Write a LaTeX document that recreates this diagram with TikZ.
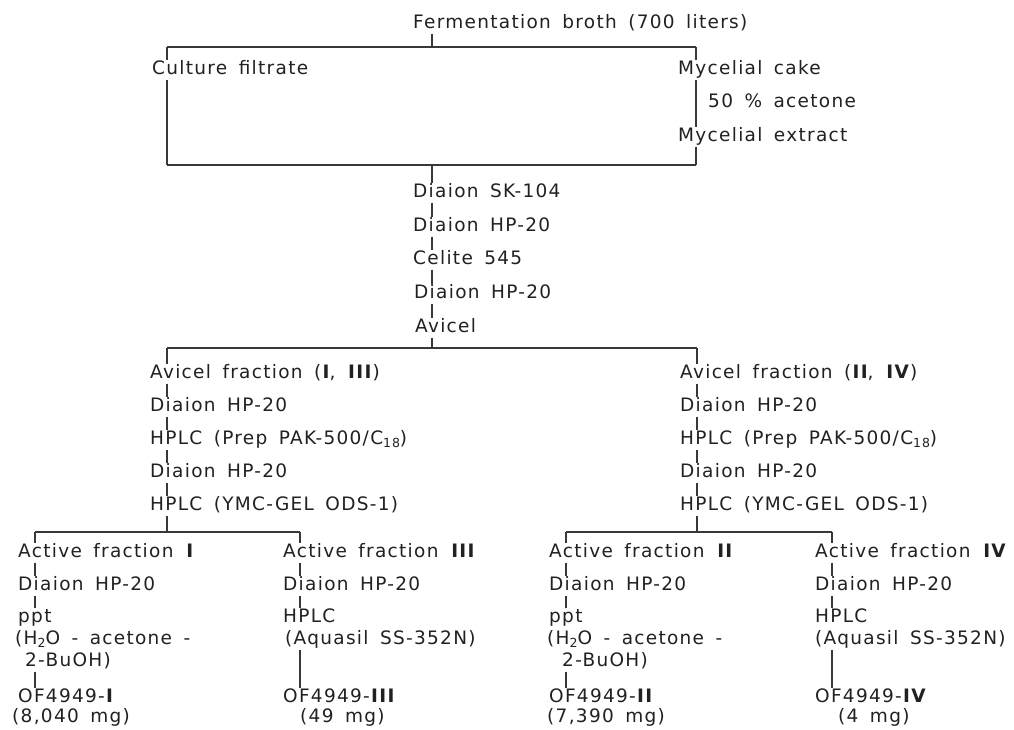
\documentclass[tikz,border=0pt]{standalone}
\usepackage{fontspec}
\setmainfont[LetterSpace=7,WordSpace=1.6]{DejaVu Sans}
\newcommand\lowsub[1]{\raisebox{-0.2em}{\fontsize{12.5}{12.5}\selectfont #1}}
\definecolor{ink}{gray}{0.13}
\definecolor{rule}{gray}{0.22}
\begin{document}
\begin{tikzpicture}[x=1pt,y=-1pt,
  txt/.style={anchor=base west,inner xsep=0pt,inner ysep=1.5pt,text height=12.5pt,text depth=4pt,
    font=\fontsize{18.5}{21}\selectfont,text=ink},
  upper/.style={text depth=1pt},
  lower/.style={text height=10pt},
  ln/.style={draw=rule,line width=1.1pt},
  barline/.style={draw=rule,line width=1.5pt}]
\path[use as bounding box,fill=white] (0,0) rectangle (1014,729);
% reference coordinates
\coordinate (xA) at (167,0);
\coordinate (xB) at (696,0);
\coordinate (xC) at (432,0);
\coordinate (xR) at (697,0);
\coordinate (x1) at (35,0);
\coordinate (x2) at (300,0);
\coordinate (x3) at (566,0);
\coordinate (x4) at (832,0);
\coordinate (yT) at (0,47);
\coordinate (yB) at (0,165);
\coordinate (yM) at (0,348);
\coordinate (yL) at (0,532);
% top
\node[txt] (ferm) at (413,28) {Fermentation broth (700 liters)};
\node[txt] (cf) at (152,74) {Culture filtrate};
\node[txt] (mc) at (678,74) {Mycelial cake};
\node[txt] (ac) at (708,107) {50 \% acetone};
\node[txt] (me) at (678,141) {Mycelial extract};
% middle column
\node[txt] (sk) at (413,197) {Diaion SK-104};
\node[txt] (hpa) at (413,231) {Diaion HP-20};
\node[txt] (cel) at (413,264) {Celite 545};
\node[txt] (hpb) at (414,298) {Diaion HP-20};
\node[txt] (avi) at (415,332) {Avicel};
% left column
\node[txt] (lA) at (150,378) {Avicel fraction (\textbf{I}, \textbf{III})};
\node[txt] (lB) at (150,411) {Diaion HP-20};
\node[txt] (lC) at (150,444) {HPLC (Prep PAK-500/C\lowsub{18})};
\node[txt] (lD) at (150,477) {Diaion HP-20};
\node[txt] (lE) at (150,510) {HPLC (YMC-GEL ODS-1)};
% right column
\node[txt] (rA) at (680,378) {Avicel fraction (\textbf{II}, \textbf{IV})};
\node[txt] (rB) at (680,411) {Diaion HP-20};
\node[txt] (rC) at (680,444) {HPLC (Prep PAK-500/C\lowsub{18})};
\node[txt] (rD) at (680,477) {Diaion HP-20};
\node[txt] (rE) at (680,510) {HPLC (YMC-GEL ODS-1)};
% bottom column 1
\node[txt] (aA) at (18,557) {Active fraction \textbf{I}};
\node[txt] (aB) at (18,590) {Diaion HP-20};
\node[txt] (aC) at (18,622) {ppt};
\node[txt,upper] (aD) at (15,644) {(H\lowsub{2}O - acetone -};
\node[txt,lower] (aE) at (25,666) {2-BuOH)};
\node[txt] (aF) at (18,702) {OF4949-\textbf{I}};
\node[txt] (aG) at (12,722) {(8,040 mg)};
% bottom column 2
\node[txt] (bA) at (283,557) {Active fraction \textbf{III}};
\node[txt] (bB) at (283,590) {Diaion HP-20};
\node[txt] (bC) at (283,622) {HPLC};
\node[txt] (bD) at (285,644) {(Aquasil SS-352N)};
\node[txt] (bF) at (283,702) {OF4949-\textbf{III}};
\node[txt] (bG) at (300,722) {(49 mg)};
% bottom column 3
\node[txt] (cA) at (549,557) {Active fraction \textbf{II}};
\node[txt] (cB) at (549,590) {Diaion HP-20};
\node[txt] (cC) at (549,622) {ppt};
\node[txt,upper] (cD) at (547,644) {(H\lowsub{2}O - acetone -};
\node[txt,lower] (cE) at (562,666) {2-BuOH)};
\node[txt] (cF) at (549,702) {OF4949-\textbf{II}};
\node[txt] (cG) at (547,722) {(7,390 mg)};
% bottom column 4
\node[txt] (dA) at (815,557) {Active fraction \textbf{IV}};
\node[txt] (dB) at (815,590) {Diaion HP-20};
\node[txt] (dC) at (815,622) {HPLC};
\node[txt] (dD) at (815,644) {(Aquasil SS-352N)};
\node[txt] (dF) at (815,702) {OF4949-\textbf{IV}};
\node[txt] (dG) at (838,722) {(4 mg)};
% ---- connectors: top box
\draw[ln] (ferm.south -| xC) -- (xC |- yT);
\draw[barline] (xA |- yT) -- (xB |- yT);
\draw[ln] (xA |- yT) -- (cf.north -| xA);
\draw[ln] (cf.south -| xA) -- (xA |- yB);
\draw[ln] (xB |- yT) -- (mc.north -| xB);
\draw[ln] (mc.south -| xB) -- (me.north -| xB);
\draw[ln] (me.south -| xB) -- (xB |- yB);
\draw[barline] (xA |- yB) -- (xB |- yB);
% middle column
\draw[ln] (xC |- yB) -- (sk.north -| xC);
\draw[ln] (sk.south -| xC) -- (hpa.north -| xC);
\draw[ln] (hpa.south -| xC) -- (cel.north -| xC);
\draw[ln] (cel.south -| xC) -- (hpb.north -| xC);
\draw[ln] (hpb.south -| xC) -- (avi.north -| xC);
\draw[ln] (avi.south -| xC) -- (xC |- yM);
\draw[barline] (xA |- yM) -- (xR |- yM);
% left column
\draw[ln] (xA |- yM) -- (lA.north -| xA);
\draw[ln] (lA.south -| xA) -- (lB.north -| xA);
\draw[ln] (lB.south -| xA) -- (lC.north -| xA);
\draw[ln] (lC.south -| xA) -- (lD.north -| xA);
\draw[ln] (lD.south -| xA) -- (lE.north -| xA);
\draw[ln] (lE.south -| xA) -- (xA |- yL);
% right column
\draw[ln] (xR |- yM) -- (rA.north -| xR);
\draw[ln] (rA.south -| xR) -- (rB.north -| xR);
\draw[ln] (rB.south -| xR) -- (rC.north -| xR);
\draw[ln] (rC.south -| xR) -- (rD.north -| xR);
\draw[ln] (rD.south -| xR) -- (rE.north -| xR);
\draw[ln] (rE.south -| xR) -- (xR |- yL);
% bottom bars
\draw[barline] (x1 |- yL) -- (x2 |- yL);
\draw[barline] (x3 |- yL) -- (x4 |- yL);
% column 1
\draw[ln] (x1 |- yL) -- (aA.north -| x1);
\draw[ln] (aA.south -| x1) -- (aB.north -| x1);
\draw[ln] (aB.south -| x1) -- (aC.north -| x1);
\draw[ln] (aE.south -| x1) -- (aF.north -| x1);
% column 2
\draw[ln] (x2 |- yL) -- (bA.north -| x2);
\draw[ln] (bA.south -| x2) -- (bB.north -| x2);
\draw[ln] (bB.south -| x2) -- (bC.north -| x2);
\draw[ln] (bD.south -| x2) -- (bF.north -| x2);
% column 3
\draw[ln] (x3 |- yL) -- (cA.north -| x3);
\draw[ln] (cA.south -| x3) -- (cB.north -| x3);
\draw[ln] (cB.south -| x3) -- (cC.north -| x3);
\draw[ln] (cE.south -| x3) -- (cF.north -| x3);
% column 4
\draw[ln] (x4 |- yL) -- (dA.north -| x4);
\draw[ln] (dA.south -| x4) -- (dB.north -| x4);
\draw[ln] (dB.south -| x4) -- (dC.north -| x4);
\draw[ln] (dD.south -| x4) -- (dF.north -| x4);
\end{tikzpicture}
\end{document}
